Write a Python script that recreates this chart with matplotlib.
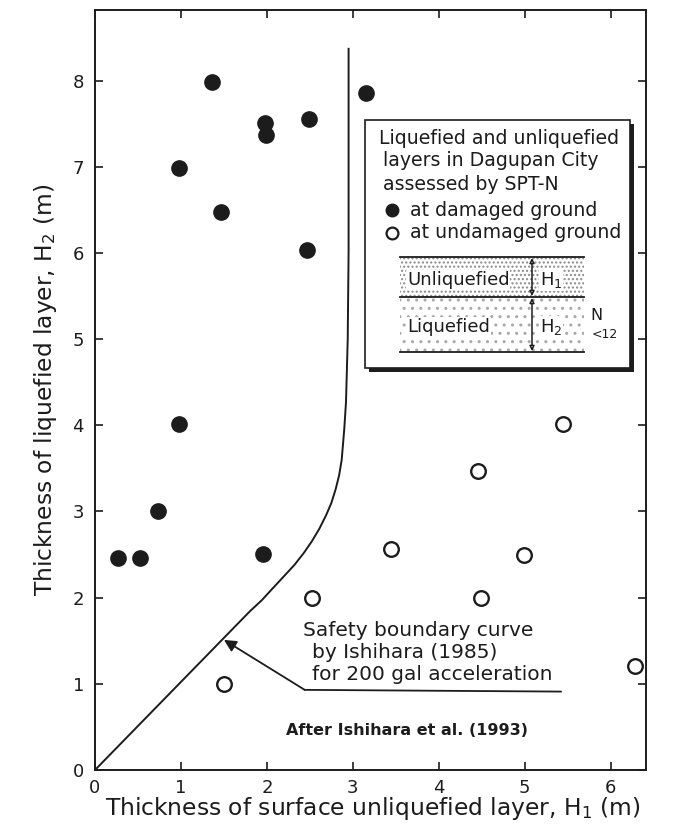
import matplotlib.pyplot as plt
from matplotlib.patches import Rectangle

# layers at damaged ground (liquefied) -- H1 surface thickness, H2 liquefied thickness
h1_damaged = [1.36, 3.15, 1.98, 1.99, 2.49, 0.98, 1.46, 2.47, 0.98, 0.73, 0.27, 0.52, 1.96]
h2_damaged = [7.98, 7.86, 7.51, 7.37, 7.56, 6.99, 6.48, 6.03, 4.02, 3.01, 2.46, 2.46, 2.51]

# layers at undamaged ground
h1_undamaged = [1.50, 2.52, 3.44, 4.45, 4.49, 4.99, 5.44, 6.28]
h2_undamaged = [1.00, 2.00, 2.56, 3.47, 2.00, 2.49, 4.02, 1.21]

# Ishihara (1985) boundary for 200 gal
bound_h1 = [0.0, 1.80, 1.94, 2.06, 2.19, 2.32, 2.43, 2.52, 2.61, 2.69, 2.75, 2.80,
            2.84, 2.87, 2.90, 2.92, 2.94, 2.95, 2.95]
bound_h2 = [0.0, 1.84, 1.97, 2.10, 2.24, 2.38, 2.52, 2.65, 2.80, 2.96, 3.10, 3.26,
            3.42, 3.60, 3.96, 4.27, 5.0, 6.0, 8.37]

x_ticks = [0, 1, 2, 3, 4, 5, 6]
y_ticks = [0, 1, 2, 3, 4, 5, 6, 7, 8]

ink = "#1c1c1c"
plt.rcParams["font.family"] = "DejaVu Sans"
plt.rcParams["mathtext.fontset"] = "dejavusans"

fig = plt.figure(figsize=(6.82, 8.34), dpi=100)
ax = fig.add_axes([95 / 682, 1 - 770 / 834, 551 / 682, 760 / 834])

ax.plot(bound_h1, bound_h2, color=ink, lw=1.4)
ax.plot(h1_damaged, h2_damaged, "o", ms=11, color=ink, mec=ink, ls="none")
ax.plot(h1_undamaged, h2_undamaged, "o", ms=10.5, mfc="white", mec=ink, mew=1.7, ls="none")

ax.set_xlim(0, 6.41)
ax.set_ylim(0, 8.82)
ax.set_xticks(x_ticks)
ax.set_yticks(y_ticks)
ax.tick_params(direction="in", top=True, right=True, length=5.5, width=1.2,
               labelsize=13, colors=ink)
ax.tick_params(axis="x", pad=6.5)
ax.tick_params(axis="y", pad=8)
for s in ax.spines.values():
    s.set_linewidth(1.4)
    s.set_color(ink)

ax.set_xlabel(r"Thickness of surface unliquefied layer, H$_1$ (m)", fontsize=16.8, color=ink)
ax.set_ylabel(r"Thickness of liquefied layer, H$_2$ (m)", fontsize=16.8, color=ink)
ax.xaxis.set_label_coords(0.505, -0.051)
ax.yaxis.set_label_coords(-0.089, 0.5)
ax.xaxis.label.set_va("center")
ax.yaxis.label.set_va("center")

# leader line and arrow pointing at the boundary curve
ax.plot([2.44, 5.42], [0.93, 0.91], color=ink, lw=1.3)
ax.annotate("", xy=(1.50, 1.51), xytext=(2.44, 0.93),
            arrowprops=dict(arrowstyle="-|>", color=ink, lw=1.3,
                            mutation_scale=18, shrinkA=0, shrinkB=0))
ax.text(2.42, 1.55, "Safety boundary curve", fontsize=14.5, color=ink, va="baseline")
ax.text(2.53, 1.30, "by Ishihara (1985)", fontsize=14.5, color=ink, va="baseline")
ax.text(2.53, 1.05, "for 200 gal acceleration", fontsize=14.5, color=ink, va="baseline")
ax.text(3.63, 0.46, "After Ishihara et al. (1993)", fontsize=11.5, fontweight="bold",
        color=ink, ha="center", va="center")

# explanation box with a drop shadow
box = fig.add_axes([364 / 682, 1 - 375 / 834, 272 / 682, 256 / 834])
box.set_xlim(0, 272)
box.set_ylim(256, 0)
box.axis("off")
box.add_patch(Rectangle((5, 5), 265, 248, facecolor=ink, edgecolor="none"))
box.add_patch(Rectangle((1, 1), 265, 248, facecolor="white", edgecolor=ink, lw=1.2))

box.text(135, 19, "Liquefied and unliquefied", fontsize=13.6, color=ink, ha="center", va="center")
box.text(19, 42, "layers in Dagupan City", fontsize=13.6, color=ink, va="center")
box.text(19, 65, "assessed by SPT-N", fontsize=13.6, color=ink, va="center")
box.plot([28], [91], "o", ms=9, color=ink)
box.plot([28], [114], "o", ms=8.5, mfc="white", mec=ink, mew=1.6)
box.text(46, 91, "at damaged ground", fontsize=13.6, color=ink, va="center")
box.text(46, 114, "at undamaged ground", fontsize=13.6, color=ink, va="center")

# soil column sketch
box.add_patch(Rectangle((36, 138), 184, 40, facecolor="white", edgecolor="#8a8a8a",
                        hatch="....", lw=0))
box.add_patch(Rectangle((36, 178), 184, 55, facecolor="white", edgecolor="#a8a8a8",
                        hatch="..", lw=0))
for yy in (138, 178, 233):
    box.plot([36, 220], [yy, yy], color=ink, lw=1.3)
box.text(43, 161, "Unliquefied", fontsize=13, color=ink, va="center",
         bbox=dict(facecolor="white", edgecolor="none", pad=0.5))
box.text(43, 208, "Liquefied", fontsize=13, color=ink, va="center",
         bbox=dict(facecolor="white", edgecolor="none", pad=0.5))
for y0, y1 in ((138, 178), (178, 233)):
    box.annotate("", xy=(168, y0 + 1), xytext=(168, y1 - 1),
                 arrowprops=dict(arrowstyle="<|-|>", color=ink, lw=1.1, fc="white",
                                 mutation_scale=7, shrinkA=0, shrinkB=0))
box.text(176, 161, r"H$_1$", fontsize=13, color=ink, va="center",
         bbox=dict(facecolor="white", edgecolor="none", pad=0.5))
box.text(176, 208, r"H$_2$", fontsize=13, color=ink, va="center",
         bbox=dict(facecolor="white", edgecolor="none", pad=0.5))
box.text(226, 196, "N", fontsize=11.5, color=ink, va="center")
box.text(228, 216, "<12", fontsize=9, color=ink, va="center")

fig.savefig("out.png", dpi=100)
